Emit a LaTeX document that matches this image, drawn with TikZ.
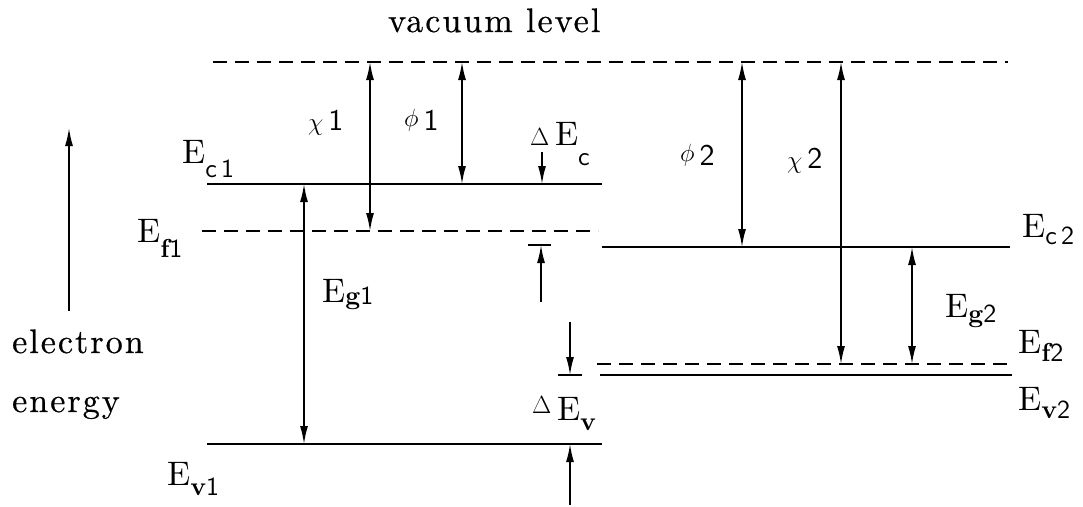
\documentclass[tikz,border=0pt]{standalone}
\usepackage{fontspec}
\usetikzlibrary{arrows.meta}
\newfontfamily\wordfont[Extension=.otf,LetterSpace=6,FakeBold=0.6]{lmroman10-regular}
\newfontfamily\Efont[Extension=.otf]{lmroman10-regular}
\newfontfamily\subsans[Extension=.otf]{lmsans10-regular}
\newfontfamily\subbold[Extension=.otf]{lmroman10-bold}
\newcommand{\fs}[1]{\fontsize{#1}{#1}\selectfont}
\newcommand{\sublow}[2]{\raisebox{-#1pt}{\fs{26}#2}}
\tikzset{
  lvl/.style={line width=1.8pt},
  flvl/.style={line width=1.5pt, dash pattern=on 14pt off 8pt},
  dim/.style={line width=1.6pt, {Latex[length=18pt,width=8pt]}-{Latex[length=18pt,width=8pt]}},
  onearrow/.style={line width=1.6pt, -{Latex[length=18pt,width=8pt]}},
  lab/.style={inner sep=0pt, anchor=base west, font=\Efont\fs{34}},
  glab/.style={inner sep=0pt, anchor=base west, font=\fs{30}},
  word/.style={inner sep=0pt, anchor=base west, font=\wordfont\fs{34}},
}
\begin{document}
\begin{tikzpicture}[x=1pt,y=-1pt]
\useasboundingbox (0,0) rectangle (1083,506);
% level end points
\coordinate (vacL) at (213,62);  \coordinate (vacR) at (1008,62);
\coordinate (ec1L) at (207,184); \coordinate (ec1R) at (602,184);
\coordinate (ef1L) at (202,231); \coordinate (ef1R) at (598,231);
\coordinate (ev1L) at (207,444); \coordinate (ev1R) at (602,444);
\coordinate (ec2L) at (602,247); \coordinate (ec2R) at (1010,247);
\coordinate (ef2L) at (597,364); \coordinate (ef2R) at (1012,364);
\coordinate (ev2L) at (600,375); \coordinate (ev2R) at (1012,375);
\coordinate (bcL) at (528,245);  \coordinate (bcR) at (551,245);
\coordinate (bvL) at (558,375);  \coordinate (bvR) at (582,375);
% arrow columns
\coordinate (xchi1) at (370,0);
\coordinate (xphi1) at (462,0);
\coordinate (xeg1) at (304,0);
\coordinate (xdc) at (542,0);
\coordinate (xdv) at (570,0);
\coordinate (xphi2) at (742,0);
\coordinate (xchi2) at (841,0);
\coordinate (xeg2) at (912,0);
\coordinate (enlo) at (69,311);   \coordinate (enhi) at (69,128);
\coordinate (dctop) at (542,152); \coordinate (dcbot) at (541,302);
\coordinate (dvtop) at (570,322); \coordinate (dvbot) at (570,505);

% levels
\draw[flvl] (vacL) -- (vacR);
\draw[lvl] (ec1L) -- (ec1R);
\draw[flvl] (ef1L) -- (ef1R);
\draw[lvl] (ev1L) -- (ev1R);
\draw[lvl] (ec2L) -- (ec2R);
\draw[flvl] (ef2L) -- (ef2R);
\draw[lvl] (ev2L) -- (ev2R);
\draw[lvl] (bcL) -- (bcR);
\draw[lvl] (bvL) -- (bvR);

% arrows
\draw[onearrow] (enlo) -- (enhi);
\draw[dim] (xchi1 |- vacL) -- (xchi1 |- ef1L);
\draw[dim] (xphi1 |- vacL) -- (xphi1 |- ec1L);
\draw[dim] (xeg1 |- ec1L) -- (xeg1 |- ev1L);
\draw[onearrow] (dctop) -- (xdc |- ec1L);
\draw[onearrow] (dcbot) -- (dcbot |- bcL);
\draw[onearrow] (dvtop) -- (dvtop |- bvL);
\draw[onearrow] (dvbot) -- (xdv |- ev1L);
\draw[dim] (xphi2 |- vacL) -- (xphi2 |- ec2L);
\draw[dim] (xchi2 |- vacL) -- (xchi2 |- ef2L);
\draw[dim] (xeg2 |- ec2L) -- (xeg2 |- ef2L);

% texts
\node[word] (vac) at (388,32) {vacuum level};
\node[word] (el) at (12,353) {electron};
\node[word] (en) at (12,412) {energy};

\node[lab] (Ec1) at (182,163) {E\sublow{14}{\subsans c\,1}};
\node[lab] (Ef1) at (137,242) {E\sublow{15}{\subbold f\subsans 1}};
\node[lab] (Ev1) at (167,485) {E\sublow{10}{\subbold v\subsans 1}};
\node[lab] (Eg1) at (322,302) {E\sublow{2}{\subbold g\subsans 1}};
\node[lab] (Ec2) at (1022,237) {E\sublow{7}{\subsans c\,2}};
\node[lab] (Eg2) at (945,317) {E\sublow{5}{\subbold g\subsans 2}};
\node[lab] (Ef2) at (1018,353) {E\sublow{8}{\subbold f\subsans 2}};
\node[lab] (Ev2) at (1018,410) {E\sublow{8}{\subbold v\subsans 2}};
\node[lab] (dEc) at (530,145) {{\fs{24}$\Delta$}\,E\sublow{20}{\subsans c}};
\node[lab] (dEv) at (532,420) {\raisebox{7pt}{\fs{24}$\Delta$}\,E\sublow{10}{\subbold v}};

\node[glab] (chi1) at (308,130) {$\chi$\,\subsans 1};
\node[glab] (phi1) at (404,130) {\raisebox{4pt}{$\phi$}\,\subsans 1};
\node[glab] (phi2) at (680,165) {\raisebox{4pt}{$\phi$}\,\subsans 2};
\node[glab] (chi2) at (787,168) {$\chi$\,\subsans 2};
\end{tikzpicture}
\end{document}
